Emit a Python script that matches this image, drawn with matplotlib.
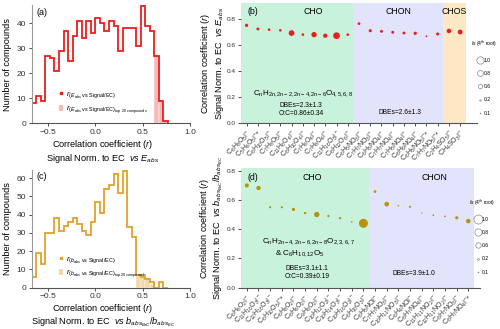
import numpy as np
import matplotlib
matplotlib.use('Agg')
import matplotlib.pyplot as plt
from matplotlib.lines import Line2D
from matplotlib.patches import Patch
import re

plt.rcParams['font.family'] = ['Liberation Sans', 'DejaVu Sans']
plt.rcParams['mathtext.fontset'] = 'custom'
plt.rcParams['mathtext.rm'] = 'Liberation Sans'
plt.rcParams['mathtext.it'] = 'Liberation Sans:italic'
plt.rcParams['mathtext.bf'] = 'Liberation Sans:bold'

# histogram bins (r)
bin_start = -0.672
bin_width = 0.048

# (a) r(E_abs vs Signal/EC)
hist_a = [8, 11, 9, 27, 26, 21, 29, 37, 25, 35, 41, 34, 41, 36, 42,
          40, 37, 41, 39, 29, 38, 38, 38, 31, 47, 39, 37, 27, 9, 1]
top20_a = [0] * 27 + [27, 9, 1]

# (c) r(b_abs vs Signal/EC)
hist_c = [6, 19, 13, 30, 30, 38, 31, 34, 36, 38, 35, 31, 29, 36, 47,
          41, 54, 56, 62, 52, 64, 33, 28, 7, 6, 5, 3, 0, 3, 0]
top20_c = [0] * 23 + [7, 6, 5, 2, 0, 0, 0]

# (b) top 20 compounds, E_abs
b_labels = ["C6H8O5I", "C5H6O5I*", "C6H10O5I", "C7H8O5I", "C11H8O4I",
            "C8H10O4I", "C7H6O4I", "C7H8O4I", "C11H16O5I", "C8H12O6I",
            "C6H5NO3I", "C7H7NO3I", "C6H5NO4I", "C7H7NO4I", "C7H5NO4I",
            "C8H9NO4I", "C6H5NO5I*", "C7H7NO5I*", "C2H4SO5I", "CH4SO3I"]
b_r = [0.749, 0.721, 0.716, 0.711, 0.690, 0.678, 0.678, 0.670, 0.670, 0.678,
       0.762, 0.708, 0.703, 0.696, 0.690, 0.688, 0.665, 0.683, 0.706, 0.698]
b_is = [0.45, 0.40, 0.36, 0.36, 0.78, 0.36, 0.73, 0.58, 0.92, 0.36,
        0.38, 0.42, 0.40, 0.40, 0.40, 0.45, 0.25, 0.42, 0.62, 0.66]
b_groups = [("CHO", 10), ("CHON", 8), ("CHOS", 2)]

# (d) top 20 compounds, b_abs
d_labels = ["C6H6O2I", "C11H16O3I", "C12H16O3I", "C6H10O5I*", "C6H8O2I",
            "C8H6O2I", "C9H8O2I", "C10H12O2I", "C10H14O3I", "C10H16O2I",
            "C6H10O3I", "C6H5NOI", "C7H7NO3I", "C10H11NO3I", "C6H4NOI",
            "C8H7NO4I", "C11H11NO2I", "C12H11NO2I", "C8H7NO3I", "C8H7NO4I*"]
d_r = [0.699, 0.681, 0.550, 0.550, 0.535, 0.510, 0.500, 0.490, 0.475, 0.450,
       0.440, 0.657, 0.571, 0.560, 0.553, 0.510, 0.495, 0.487, 0.478, 0.455]
d_is = [0.45, 0.48, 0.24, 0.24, 0.36, 0.26, 0.60, 0.26, 0.26, 0.18,
        1.00, 0.30, 0.52, 0.18, 0.24, 0.15, 0.20, 0.20, 0.35, 0.50]
d_groups = [("CHO", 11), ("CHON", 9)]

is_legend = [1.0, 0.8, 0.6, 0.2, 0.1]

bg_colors = {"CHO": "#c9f2dd", "CHON": "#e1e4fa", "CHOS": "#fde8c6"}


def chem_label(s):
    star = s.endswith("*")
    s = s.rstrip("*")
    s = re.sub(r'(\d+)', r'_{\1}', s)
    out = r'$\mathrm{' + s + r'}^{-}$'
    if star:
        out += '*'
    return out


def style_axes(ax, tick_size):
    for side in ['top', 'right']:
        ax.spines[side].set_visible(False)
    ax.spines['left'].set_color('#9a9a9a')
    ax.spines['bottom'].set_color('#555555')
    ax.spines['left'].set_linewidth(0.8)
    ax.spines['bottom'].set_linewidth(0.8)
    ax.tick_params(labelsize=tick_size, length=2.5, width=0.6, pad=1.5, colors='#333333')


def draw_hist(ax, counts, top20, color, fill_color, ymax, yticks, tag, leg1, leg2, xlabel):
    edges = bin_start + bin_width * np.arange(len(counts) + 1)
    ax.bar(edges[:-1], top20, width=bin_width, align='edge', color=fill_color,
           edgecolor='white', linewidth=0.3, zorder=1)
    ax.stairs(counts, edges, color=color, linewidth=1.3, zorder=2)
    ax.set_xlim(-0.672, 1.0)
    ax.set_ylim(0, ymax)
    ax.set_xticks([-0.5, 0.0, 0.5, 1.0])
    ax.set_yticks(yticks)
    style_axes(ax, 6)
    ax.text(0.03, 0.94, tag, transform=ax.transAxes, fontsize=6.5, va='center')
    ax.set_ylabel('Number of compounds', fontsize=6.6)
    ax.yaxis.set_label_coords(-0.125, 0.5)
    ax.set_xlabel(xlabel, fontsize=6.6, linespacing=1.05)
    ax.xaxis.set_label_coords(0.45, -0.125)
    handles = [Line2D([0], [0], ls='none', marker='s', ms=1.5, color=color),
               Patch(facecolor=fill_color, edgecolor='none')]
    ax.legend(handles, [leg1, leg2], loc='lower left', bbox_to_anchor=(0.14, 0.02),
              fontsize=5.6, frameon=False, handlelength=0.5, handleheight=0.8,
              handletextpad=0.3, labelspacing=0.4, borderpad=0.2)


def draw_dots(ax, labels, r_vals, is_vals, groups, color, scale, xmax, ymax,
              tag, name_x, texts, ylabel, leg_anchor):
    x = np.arange(len(labels))
    start = 0
    for (name, n), nx in zip(groups, name_x):
        ax.axvspan(start - 0.5, start + n - 0.5, color=bg_colors[name], lw=0, zorder=0)
        ax.text(nx, 0.925, name, transform=ax.get_xaxis_transform(), fontsize=6.3,
                ha='center', va='center')
        start += n
    ax.scatter(x, r_vals, s=scale * np.array(is_vals) ** 2, color=color,
               linewidths=0, zorder=3)
    ax.set_xlim(-0.5, xmax)
    ax.set_ylim(0, ymax)
    ax.set_xticks(x)
    ax.set_xticklabels([chem_label(s) for s in labels], rotation=45, ha='right',
                       rotation_mode='anchor')
    ax.set_yticks([0.0, 0.2, 0.4, 0.6, 0.8])
    style_axes(ax, 4.6)
    ax.spines['left'].set_visible(False)
    ax.tick_params(axis='x', labelsize=5.0, length=2.5)
    ax.text(0.028, 0.925, tag, transform=ax.transAxes, fontsize=6.3, va='center')
    for tx, ty, s, fs in texts:
        ax.text(tx, ty, s, transform=ax.get_xaxis_transform(), fontsize=fs,
                ha='center', va='center')
    ax.set_ylabel(ylabel, fontsize=6.6, linespacing=1.1)
    ax.yaxis.set_label_coords(-0.065, 0.5)
    d = np.sqrt(scale)
    handles = [Line2D([0], [0], ls='none', marker='o', ms=d * v, mfc='none',
                      mec='#888888', mew=0.5) for v in is_legend]
    ax.legend(handles, ['%.1f' % v for v in is_legend], loc='upper left',
              bbox_to_anchor=leg_anchor, title=r'$Is$ (4$^{th}$ root)',
              title_fontsize=3.6, fontsize=3.6, frameon=False, handlelength=1.0,
              handletextpad=0.2, labelspacing=1.65, borderpad=0, borderaxespad=0)


fig = plt.figure(figsize=(5, 3.29), dpi=100)
ax_a = fig.add_axes([0.0634, 0.625, 0.3166, 0.36])
ax_b = fig.add_axes([0.482, 0.625, 0.472, 0.366])
ax_c = fig.add_axes([0.0634, 0.1255, 0.3166, 0.358])
ax_d = fig.add_axes([0.482, 0.1255, 0.478, 0.363])

draw_hist(ax_a, hist_a, top20_a, '#ee1c1c', '#f7b9b9', 47.3, [0, 10, 20, 30, 40], '(a)',
          r'$r_{(E_{abs}\ \mathrm{vs\ Signal/EC})}$',
          r'$r_{(E_{abs}\ \mathrm{vs\ Signal/EC})_{\mathrm{top\ 20\ compounds}}}$',
          'Correlation coefficient ($r$)\nSignal Norm. to EC  $vs$ $E_{abs}$')

draw_hist(ax_c, hist_c, top20_c, '#e3a12a', '#f2d9a6', 64.5, [0, 10, 20, 30, 40, 50, 60], '(c)',
          r'$r_{(b_{abs}\ \mathrm{vs\ Signal/EC})}$',
          r'$r_{(b_{abs}\ \mathrm{vs\ Signal/EC})_{\mathrm{top\ 20\ compounds}}}$',
          'Correlation coefficient ($r$)\nSignal Norm. to EC  $vs$ $b_{abs_{BrC}}/b_{abs_{EC}}$')

b_texts = [(5.0, 0.25, r'C$_\mathregular{n}$H$_\mathregular{2n,2n-2,2n-4,2n-6}$O$_\mathregular{4,5,6,8}$', 5.8),
           (4.85, 0.152, 'DBEs=2.3\u00b11.3', 4.8),
           (4.85, 0.086, 'O:C=0.86\u00b10.34', 4.8),
           (13.6, 0.094, 'DBEs=2.6\u00b11.3', 4.8)]
draw_dots(ax_b, b_labels, b_r, b_is, b_groups, '#ee1c1c', 27.7, 20.5, 0.92, '(b)',
          [5.9, 13.5, 18.5], b_texts,
          'Correlation coefficient ($r$)\nSignal Norm. to EC  $vs$ $E_{abs}$',
          (0.975, 0.70))

d_texts = [(5.26, 0.383, r'C$_\mathregular{n}$H$_\mathregular{2n-4,2n-6,2n-8}$O$_\mathregular{2,3,6,7}$', 5.9),
           (4.57, 0.29, r'& C$_\mathregular{6}$H$_\mathregular{10,12}$O$_\mathregular{5}$', 5.9),
           (5.15, 0.165, 'DBEs=3.1\u00b11.1', 4.8),
           (5.15, 0.098, 'O:C=0.39\u00b10.19', 4.8),
           (14.3, 0.117, 'DBEs=3.9\u00b11.0', 4.8)]
draw_dots(ax_d, d_labels, d_r, d_is, d_groups, '#b5930e', 42.0, 20.0, 0.816, '(d)',
          [5.57, 16.1], d_texts,
          'Correlation coefficient ($r$)\nSignal Norm. to EC  $vs$ $b_{abs_{BrC}}/b_{abs_{EC}}$',
          (0.955, 0.75))

fig.savefig('out.png', dpi=100)
